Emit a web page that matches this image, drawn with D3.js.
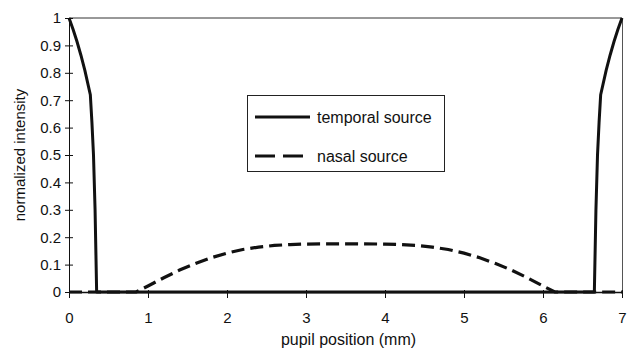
<!DOCTYPE html>
<html>
<head>
<meta charset="utf-8">
<script src="https://cdn.jsdelivr.net/npm/d3@7"></script>
<style>
  html, body { margin: 0; padding: 0; background: #fff; }
  svg { display: block; font-family: "Liberation Sans", Arial, Helvetica, sans-serif; }
</style>
</head>
<body>
<svg id="chart" width="634" height="352"></svg>
<script>
// ---- data ----
const temporalX = [0, 0.05, 0.1, 0.15, 0.2, 0.27, 0.29, 0.31, 0.33, 0.35, 6.65, 6.67, 6.69, 6.71, 6.73, 6.8, 6.85, 6.9, 6.95, 7];
const temporalY = [1, 0.96, 0.915, 0.865, 0.81, 0.72, 0.62, 0.5, 0.3, 0, 0, 0.3, 0.5, 0.62, 0.72, 0.81, 0.865, 0.915, 0.96, 1];

const nasalX = [0, 0.85, 1.0, 1.2, 1.4, 1.6, 1.8, 2.0, 2.2, 2.4, 2.6, 2.8, 3.0, 3.5, 4.0, 4.2, 4.4, 4.6, 4.8, 5.0, 5.2, 5.4, 5.6, 5.8, 6.0, 6.15, 7];
const nasalY = [0, 0, 0.022, 0.052, 0.08, 0.104, 0.125, 0.142, 0.155, 0.164, 0.17, 0.173, 0.175, 0.176, 0.175, 0.173, 0.17, 0.164, 0.155, 0.142, 0.125, 0.104, 0.08, 0.052, 0.022, 0, 0];

const xTicks = [0, 1, 2, 3, 4, 5, 6, 7];
const yTicks = [0, 0.1, 0.2, 0.3, 0.4, 0.5, 0.6, 0.7, 0.8, 0.9, 1];
const xTitle = "pupil position (mm)";
const yTitle = "normalized intensity";
const seriesNames = ["temporal source", "nasal source"];

// ---- layout ----
const svg = d3.select("#chart");
const mLeft = 69, mRight = 622, mTop = 18, mBottom = 292;
const x = d3.scaleLinear().domain([0, 7]).range([mLeft, mRight]);
const y = d3.scaleLinear().domain([0, 1]).range([mBottom, mTop]);
const ink = "#111";
const font = "'Liberation Sans', Arial, sans-serif";

// plot frame (top and right borders)
svg.append("line").attr("x1", mLeft).attr("x2", mRight).attr("y1", mTop).attr("y2", mTop)
  .attr("stroke", "#333").attr("stroke-width", 1);
svg.append("line").attr("x1", mRight + 0.5).attr("x2", mRight + 0.5).attr("y1", mTop).attr("y2", mBottom)
  .attr("stroke", "#555").attr("stroke-width", 1);

// axes
const yAxis = d3.axisLeft(y).tickValues(yTicks).tickSizeInner(4).tickSizeOuter(0).tickPadding(4)
  .tickFormat(d => String(+d.toFixed(1)));
const gy = svg.append("g").attr("transform", `translate(${mLeft},0)`).call(yAxis);
gy.selectAll(".tick line").attr("x1", 4).attr("x2", -4).attr("stroke", ink);
gy.select(".domain").attr("stroke", ink);
gy.selectAll("text").attr("font-size", 15).attr("fill", ink).attr("font-family", font);

const xAxis = d3.axisBottom(x).tickValues(xTicks).tickSizeInner(6).tickSizeOuter(0).tickPadding(14)
  .tickFormat(d3.format("d"));
const gx = svg.append("g").attr("transform", `translate(0,${mBottom})`).call(xAxis);
gx.selectAll(".tick line").attr("y1", -2).attr("y2", 6).attr("stroke", ink);
gx.select(".domain").attr("stroke", ink).attr("stroke-width", 1.5);
gx.selectAll("text").attr("font-size", 15).attr("fill", ink).attr("font-family", font);

// axis titles
svg.append("text").attr("x", (mLeft + mRight) / 2 + 3).attr("y", 345)
  .attr("text-anchor", "middle").attr("font-size", 16).attr("fill", ink).text(xTitle);
svg.append("text").attr("transform", `translate(25,${(mTop + mBottom) / 2}) rotate(-90)`)
  .attr("text-anchor", "middle").attr("font-size", 15).attr("fill", ink).text(yTitle);

// series
const line = d3.line().x(d => x(d[0])).y(d => y(d[1]));
const nasal = nasalX.map((v, i) => [v, nasalY[i]]);
const temporal = temporalX.map((v, i) => [v, temporalY[i]]);

svg.append("path").datum(nasal).attr("d", line)
  .attr("fill", "none").attr("stroke", ink).attr("stroke-width", 3.2)
  .attr("stroke-dasharray", "13,6");
svg.append("path").datum(temporal).attr("d", line)
  .attr("fill", "none").attr("stroke", ink).attr("stroke-width", 3)
  .attr("stroke-linejoin", "round");

// legend
const lg = svg.append("g");
lg.append("rect").attr("x", 247.5).attr("y", 95.5).attr("width", 197).attr("height", 76)
  .attr("fill", "#fff").attr("stroke", "#222").attr("stroke-width", 1);
const legendY = [117, 156];
const dashes = [null, "20,8"];
seriesNames.forEach((name, i) => {
  lg.append("line").attr("x1", 255).attr("x2", 310).attr("y1", legendY[i]).attr("y2", legendY[i])
    .attr("stroke", ink).attr("stroke-width", 3)
    .attr("stroke-dasharray", dashes[i]);
  lg.append("text").attr("x", 317).attr("y", legendY[i] + 5.5).attr("font-size", 16)
    .attr("fill", ink).text(name);
});
</script>
</body>
</html>
